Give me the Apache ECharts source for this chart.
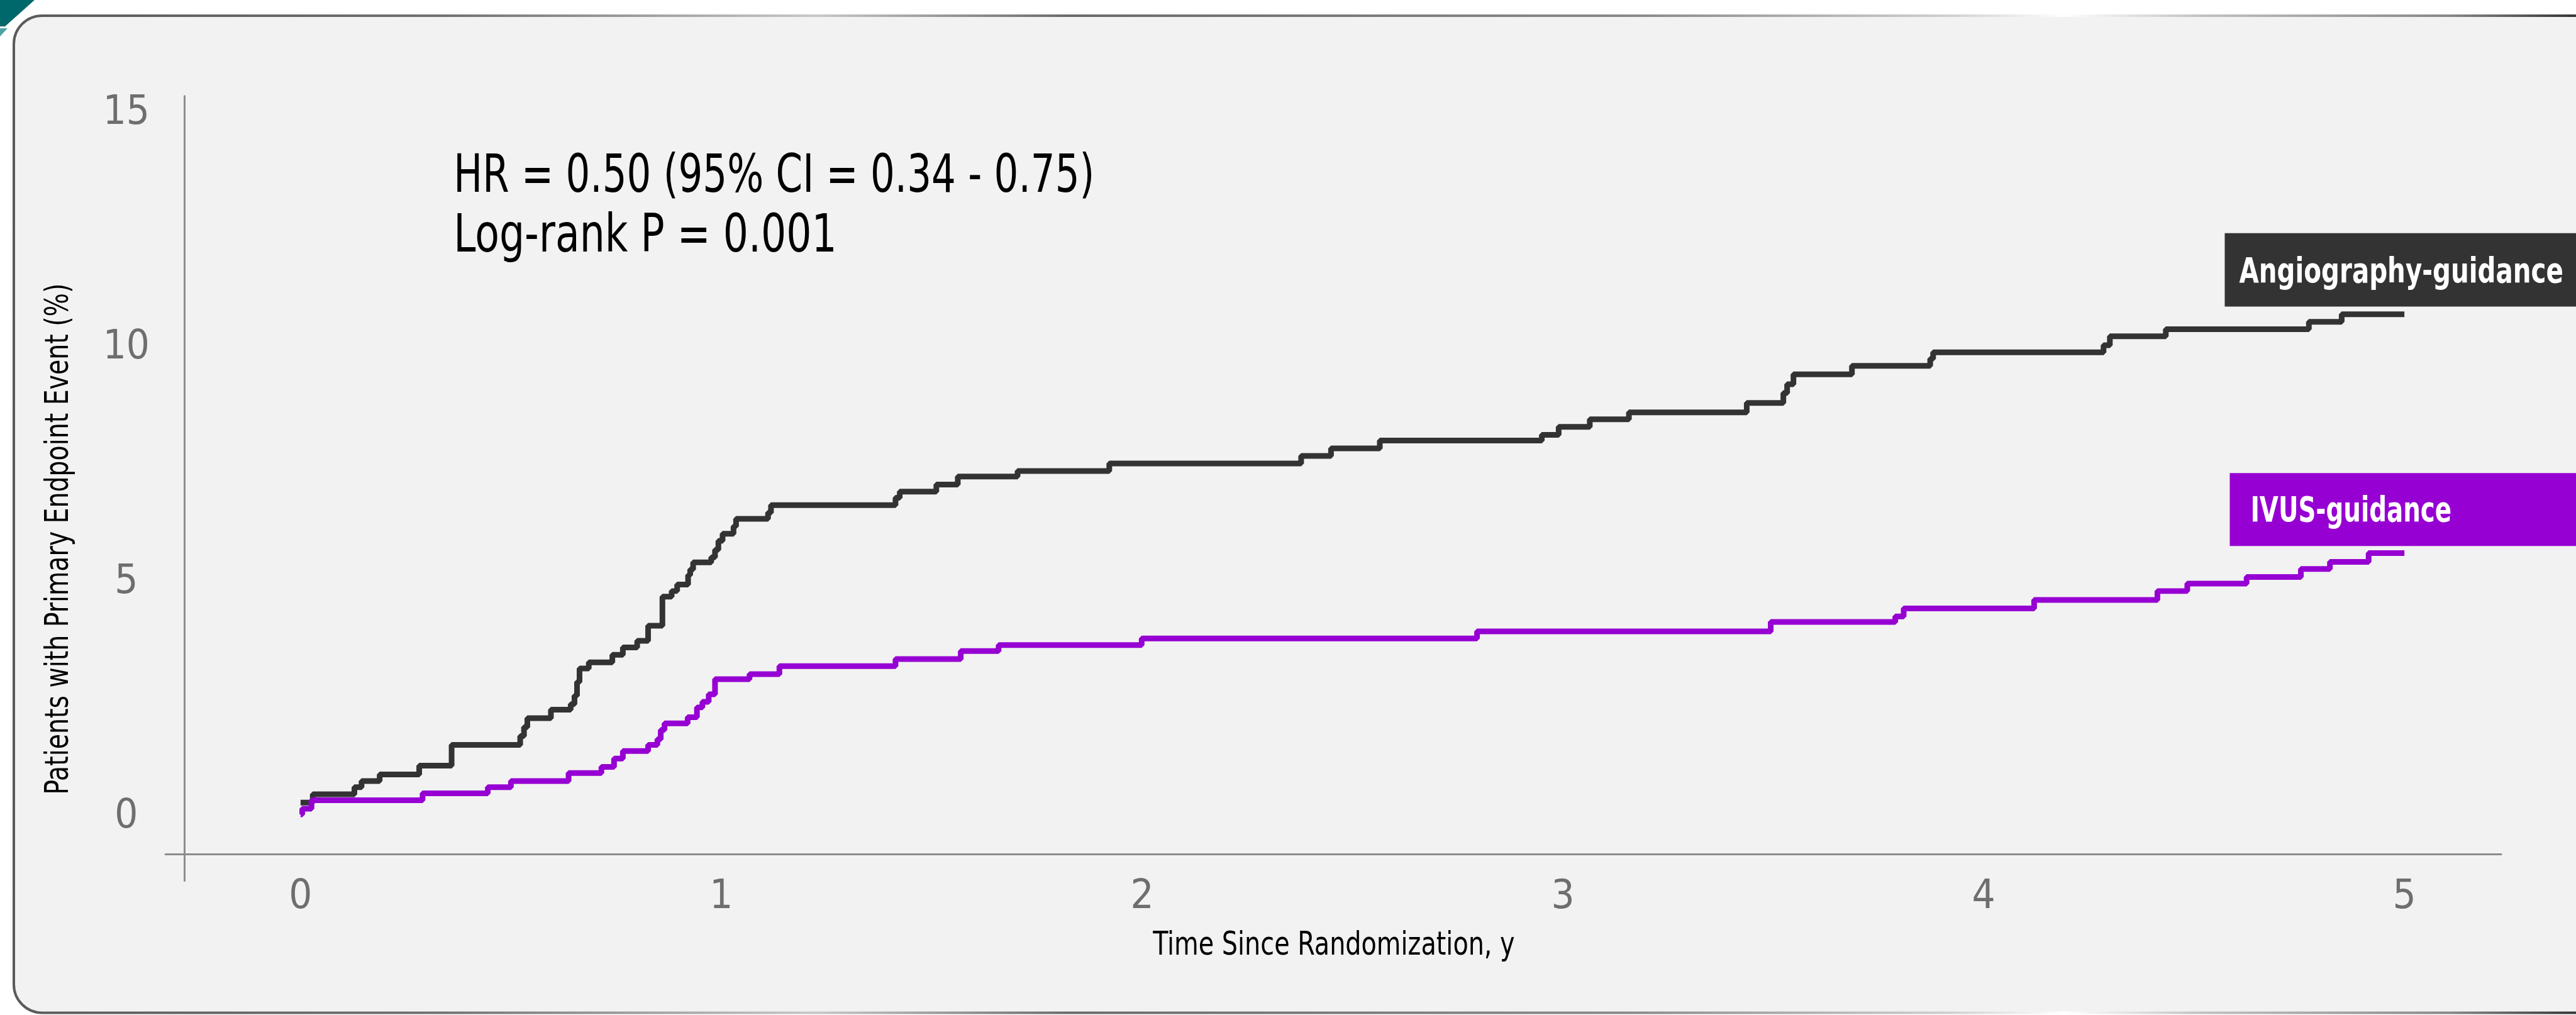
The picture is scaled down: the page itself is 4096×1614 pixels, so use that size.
<!DOCTYPE html>
<html>
<head>
<meta charset="utf-8">
<script src="https://cdn.jsdelivr.net/npm/echarts@6/dist/echarts.min.js"></script>
<style>
html, body { margin: 0; padding: 0; background: #fff; }
#chart { width: 4096px; height: 1614px; }
</style>
</head>
<body>
<div id="chart"></div>
<script>
// cumulative incidence (years, %)
var angioTime = [0, 0.029, 0.128, 0.145, 0.188, 0.282, 0.359, 0.522, 0.531, 0.539, 0.595, 0.642, 0.651, 0.657, 0.663, 0.685, 0.741, 0.766, 0.800, 0.826, 0.860, 0.882, 0.895, 0.921, 0.926, 0.933, 0.976, 0.985, 0.993, 1.003, 1.029, 1.035, 1.111, 1.118, 1.414, 1.424, 1.511, 1.562, 1.704, 1.922, 2.378, 2.449, 2.565, 2.950, 2.990, 3.064, 3.157, 3.437, 3.524, 3.533, 3.548, 3.687, 3.873, 3.880, 4.285, 4.300, 4.433, 4.773, 4.851, 5.000];
var angioRate = [0.30, 0.48, 0.63, 0.76, 0.90, 1.09, 1.53, 1.72, 1.91, 2.10, 2.28, 2.40, 2.58, 2.87, 3.16, 3.29, 3.45, 3.61, 3.75, 4.07, 4.69, 4.81, 4.95, 5.15, 5.27, 5.42, 5.53, 5.69, 5.88, 6.03, 6.19, 6.35, 6.48, 6.64, 6.80, 6.93, 7.08, 7.25, 7.37, 7.53, 7.69, 7.85, 8.02, 8.14, 8.31, 8.47, 8.62, 8.82, 9.03, 9.22, 9.43, 9.61, 9.76, 9.90, 10.05, 10.24, 10.39, 10.55, 10.71, 10.71];
var ivusTime = [0, 0.004, 0.026, 0.290, 0.445, 0.500, 0.637, 0.715, 0.745, 0.766, 0.826, 0.848, 0.856, 0.865, 0.920, 0.942, 0.955, 0.970, 0.985, 1.067, 1.138, 1.414, 1.569, 1.659, 1.999, 2.796, 3.494, 3.790, 3.810, 4.120, 4.413, 4.484, 4.625, 4.754, 4.823, 4.915, 5.000];
var ivusRate = [0.05, 0.17, 0.35, 0.50, 0.63, 0.76, 0.93, 1.06, 1.24, 1.40, 1.53, 1.65, 1.85, 1.99, 2.12, 2.33, 2.45, 2.61, 2.93, 3.04, 3.21, 3.36, 3.53, 3.66, 3.80, 3.95, 4.15, 4.27, 4.44, 4.62, 4.81, 4.97, 5.11, 5.28, 5.43, 5.62, 5.62];
var xTicks = [0, 1, 2, 3, 4, 5];
var yTicks = [0, 5, 10, 15];
var seriesNames = ['Angiography-guidance', 'IVUS-guidance'];
var seriesColors = ['#333333', '#9600d2'];

var S = 0.999;
var measure = document.createElement('canvas').getContext('2d');

function widthOf(font, str) {
    measure.font = font;
    return measure.measureText(str || '0123456789').width;
}

// the picture uses a condensed face: take the narrowest one that is really there
var faces = [
    { family: 'Noto Sans', stretch: 'extra-condensed' },
    { family: 'Noto Sans', stretch: 'condensed' },
    { family: 'Liberation Sans Narrow', stretch: '' },
    { family: 'DejaVu Sans', stretch: 'condensed' },
    { family: 'Liberation Sans', stretch: '' }
];
var mono = widthOf('100px monospace');
var face = faces.filter(function(f) {
    var base = widthOf('100px "' + f.family + '", monospace');
    if (base === mono) return false;
    if (!f.stretch) return true;
    return widthOf(f.stretch + ' 100px "' + f.family + '", monospace') < base * 0.95;
})[0] || { family: 'Liberation Sans', stretch: '' };

var FONT = '"' + face.family + '", sans-serif';
function weight(w) { return (w + ' ' + face.stretch).trim(); }

// text squeezed to the width it has in the picture
function fitText(str, x, y, size, width, opts) {
    opts = opts || {};
    var w = weight(opts.weight || 'normal');
    return {
        type: 'text',
        x: x * S,
        y: y * S,
        rotation: opts.rotation || 0,
        scaleX: (width * S) / widthOf(w + ' ' + (size * S) + 'px ' + FONT, str),
        z: 20,
        silent: true,
        style: {
            text: str,
            fontFamily: FONT,
            fontSize: size * S,
            fontWeight: w,
            fill: opts.color || '#000',
            align: opts.align || 'left',
            verticalAlign: 'middle'
        }
    };
}

function pairs(t, v) {
    return t.map(function(x, i) { return [x, v[i]]; });
}

var chart = echarts.init(document.getElementById('chart'));

var option = {
    backgroundColor: '#ffffff',
    animation: false,
    grid: {
        left: 263.4 * S,
        top: 153 * S,
        width: 3717.6 * S,
        height: 1249 * S,
        containLabel: false
    },
    xAxis: {
        type: 'value',
        min: -0.321,
        max: 5.230,
        offset: -42.5 * S,
        axisLine: { onZero: false, lineStyle: { color: '#8c8c8c', width: 3 } },
        axisTick: { show: false },
        splitLine: { show: false },
        axisLabel: {
            customValues: xTicks,
            margin: 69 * S,
            verticalAlign: 'middle',
            color: '#6e6e6e',
            fontFamily: FONT,
            fontWeight: weight('normal'),
            fontSize: 65 * S
        }
    },
    yAxis: {
        type: 'value',
        min: -1.366,
        max: 15.36,
        offset: -30.6 * S,
        axisLine: { show: true, onZero: false, lineStyle: { color: '#8c8c8c', width: 3 } },
        axisTick: { show: false },
        splitLine: { show: false },
        axisLabel: {
            customValues: yTicks,
            margin: 93 * S,
            align: 'center',
            padding: [18 * S, 0, 0, 0],
            color: '#6e6e6e',
            fontFamily: FONT,
            fontWeight: weight('normal'),
            fontSize: 65 * S
        }
    },
    series: [{
        name: seriesNames[0],
        type: 'line',
        step: 'end',
        showSymbol: false,
        lineStyle: { color: seriesColors[0], width: 9 * S },
        data: pairs(angioTime, angioRate)
    }, {
        name: seriesNames[1],
        type: 'line',
        step: 'end',
        showSymbol: false,
        lineStyle: { color: seriesColors[1], width: 9 * S },
        data: pairs(ivusTime, ivusRate)
    }],
    graphic: [
        {
            type: 'rect',
            z: -10,
            silent: true,
            shape: { x: 22 * S, y: 25 * S, width: 4300, height: 1587 * S, r: 45 * S },
            style: {
                fill: '#f2f2f2',
                lineWidth: 4,
                // the frame's top edge is shaded, dark at the corners
                stroke: new echarts.graphic.LinearGradient(0, 0, 1, 0, [
                    { offset: 0, color: '#5a5a5a' },
                    { offset: 0.158, color: '#707070' },
                    { offset: 0.297, color: '#c8c8c8' },
                    { offset: 0.39, color: '#6a6a6a' },
                    { offset: 0.6, color: '#8a8a8a' },
                    { offset: 0.716, color: '#d0d0d0' },
                    { offset: 0.758, color: '#ffffff' },
                    { offset: 0.81, color: '#c0c0c0' },
                    { offset: 0.9, color: '#888888' },
                    { offset: 0.948, color: '#333333' },
                    { offset: 1, color: '#333333' }
                ])
            }
        },
        {
            type: 'polygon',
            z: -5,
            silent: true,
            shape: { points: [[0, 0], [55 * S, 0], [8 * S, 42 * S], [0, 42 * S]] },
            style: { fill: '#00676b' }
        },
        {
            type: 'polygon',
            z: -5,
            silent: true,
            shape: { points: [[0, 45 * S], [12 * S, 45 * S], [0, 58 * S]] },
            style: { fill: '#4fa3a5' }
        },
        // series tags
        {
            type: 'rect',
            z: 15,
            silent: true,
            shape: { x: 3541 * S, y: 371 * S, width: 600, height: 117 * S },
            style: { fill: seriesColors[0] }
        },
        {
            type: 'rect',
            z: 15,
            silent: true,
            shape: { x: 3549 * S, y: 753 * S, width: 600, height: 116 * S },
            style: { fill: seriesColors[1] }
        },
        fitText(seriesNames[0], 3564, 435, 55, 516, { weight: 'bold', color: '#ffffff' }),
        fitText(seriesNames[1], 3582, 816, 55, 320, { weight: 'bold', color: '#ffffff' }),
        fitText('HR = 0.50 (95% CI = 0.34 - 0.75)', 722, 283, 84, 1020),
        fitText('Log-rank P = 0.001', 722, 379, 84, 610),
        fitText('Time Since Randomization, y', 2123, 1506, 51, 576, { align: 'center' }),
        fitText('Patients with Primary Endpoint Event (%)', 95, 858, 52, 814, { align: 'center', rotation: Math.PI / 2 })
    ]
};

chart.setOption(option);
</script>
</body>
</html>
